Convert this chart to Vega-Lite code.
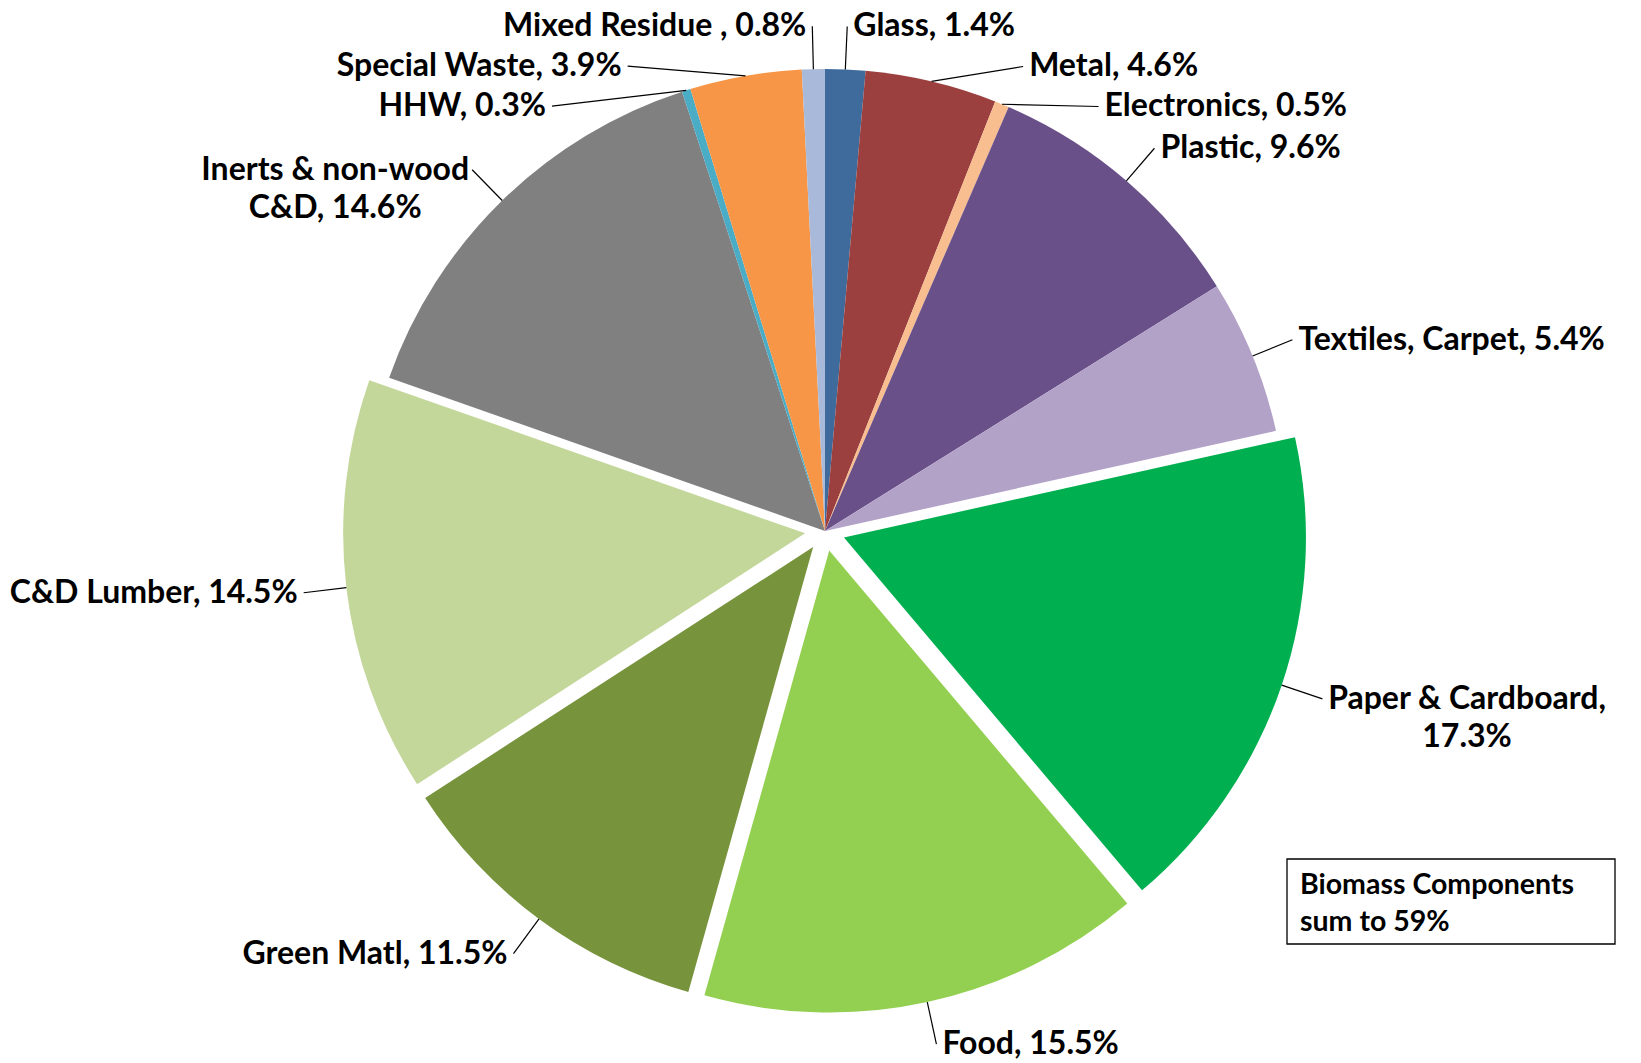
{
  "$schema": "https://vega.github.io/schema/vega-lite/v6.json",
  "width": 1641,
  "height": 1063,
  "autosize": {"type": "fit", "contains": "padding"},
  "padding": 0,
  "background": "white",
  "config": {"view": {"stroke": null}, "text": {"font": "Lato", "fontWeight": "bold", "color": "black"}},
  "data": {"values": [
    {"order": 1, "category": "Glass", "pct": 1.4, "biomass": false, "label": "Glass, 1.4%"},
    {"order": 2, "category": "Metal", "pct": 4.6, "biomass": false, "label": "Metal, 4.6%"},
    {"order": 3, "category": "Electronics", "pct": 0.5, "biomass": false, "label": "Electronics, 0.5%"},
    {"order": 4, "category": "Plastic", "pct": 9.6, "biomass": false, "label": "Plastic, 9.6%"},
    {"order": 5, "category": "Textiles, Carpet", "pct": 5.4, "biomass": false, "label": "Textiles, Carpet, 5.4%"},
    {"order": 6, "category": "Paper & Cardboard", "pct": 17.3, "biomass": true, "label": "Paper & Cardboard,\n17.3%"},
    {"order": 7, "category": "Food", "pct": 15.5, "biomass": true, "label": "Food, 15.5%"},
    {"order": 8, "category": "Green Matl", "pct": 11.5, "biomass": true, "label": "Green Matl, 11.5%"},
    {"order": 9, "category": "C&D Lumber", "pct": 14.5, "biomass": true, "label": "C&D Lumber, 14.5%"},
    {"order": 10, "category": "Inerts & non-wood C&D", "pct": 14.6, "biomass": false, "label": "Inerts & non-wood\nC&D, 14.6%"},
    {"order": 11, "category": "HHW", "pct": 0.3, "biomass": false, "label": "HHW, 0.3%"},
    {"order": 12, "category": "Special Waste", "pct": 3.9, "biomass": false, "label": "Special Waste, 3.9%"},
    {"order": 13, "category": "Mixed Residue", "pct": 0.8, "biomass": false, "label": "Mixed Residue , 0.8%"}
  ]},
  "transform": [
    {"joinaggregate": [{"op": "sum", "field": "pct", "as": "total"}]},
    {"window": [{"op": "sum", "field": "pct", "as": "cum"}], "sort": [{"field": "order"}], "frame": [null, 0]},
    {"calculate": "datum.cum - datum.pct", "as": "a0"},
    {"calculate": "datum.cum", "as": "a1"},
    {"calculate": "2*PI*(datum.cum - datum.pct/2)/datum.total", "as": "am"},
    {"calculate": "datum.biomass ? 20 : 0", "as": "e"},
    {"calculate": "datum.e*sin(datum.am)", "as": "ex"},
    {"calculate": "-datum.e*cos(datum.am)", "as": "ey"},
    {"calculate": "sin(datum.am) >= 0 ? 1 : -1", "as": "side"},
    {"calculate": "(462 + datum.e)*sin(datum.am)", "as": "rx"},
    {"calculate": "-(462 + datum.e)*cos(datum.am)", "as": "ry"},
    {"calculate": "length(split(datum.label, '\\n'))", "as": "nl"},
    {"calculate": "-cos(datum.am)*(505 + datum.e)", "as": "yn"},
    {"calculate": "datum.side > 0 ? datum.am : 2*PI - datum.am", "as": "key"},
    {"window": [{"op": "sum", "field": "nl", "as": "cs"}], "groupby": ["side"], "sort": [{"field": "key"}], "frame": [null, 0]},
    {"calculate": "(datum.cs - datum.nl/2)*40", "as": "sl"},
    {"calculate": "datum.yn - datum.sl", "as": "t"},
    {"window": [{"op": "max", "field": "t", "as": "cm"}], "groupby": ["side"], "sort": [{"field": "key"}], "frame": [null, 0]},
    {"calculate": "datum.sl + datum.cm", "as": "ly"},
    {"calculate": "datum.side*sqrt(max(pow(505 + datum.e, 2) - pow(datum.ly, 2), 0))", "as": "lx"}
  ],
  "layer": [
    {
      "mark": {"type": "arc", "radius": 462},
      "encoding": {
        "theta": {"field": "a1", "type": "quantitative", "stack": null, "scale": {"nice": false, "zero": true}},
        "theta2": {"field": "a0"},
        "x": {"field": "ex", "type": "quantitative", "axis": null, "scale": {"domain": [-825, 816], "nice": false, "zero": false}},
        "y": {"field": "ey", "type": "quantitative", "axis": null, "scale": {"domain": [-531, 532], "reverse": true, "nice": false, "zero": false}},
        "color": {
          "field": "category", "type": "nominal", "legend": null,
          "scale": {
            "domain": ["Glass", "Metal", "Electronics", "Plastic", "Textiles, Carpet", "Paper & Cardboard", "Food", "Green Matl", "C&D Lumber", "Inerts & non-wood C&D", "HHW", "Special Waste", "Mixed Residue"],
            "range": ["#3E6A9C", "#9B403E", "#F9BE8F", "#6A5088", "#B2A2C7", "#00AF50", "#93D051", "#77933C", "#C4D79B", "#808080", "#4BACC6", "#F79646", "#A9B9D9"]
          }
        }
      }
    },
    {
      "mark": {"type": "rule", "color": "black", "strokeWidth": 1.2},
      "encoding": {
        "x": {"field": "rx", "type": "quantitative", "axis": null, "scale": {"domain": [-825, 816], "nice": false, "zero": false}},
        "y": {"field": "ry", "type": "quantitative", "axis": null, "scale": {"domain": [-531, 532], "reverse": true, "nice": false, "zero": false}},
        "x2": {"field": "lx"},
        "y2": {"field": "ly"}
      }
    },
    {
      "transform": [{"filter": "datum.side > 0 && datum.nl == 1"}],
      "mark": {"type": "text", "align": "left", "baseline": "middle", "dx": 6, "fontSize": 32},
      "encoding": {
        "x": {"field": "lx", "type": "quantitative", "axis": null, "scale": {"domain": [-825, 816], "nice": false, "zero": false}},
        "y": {"field": "ly", "type": "quantitative", "axis": null, "scale": {"domain": [-531, 532], "reverse": true, "nice": false, "zero": false}},
        "text": {"field": "label"}
      }
    },
    {
      "transform": [{"filter": "datum.side < 0 && datum.nl == 1"}],
      "mark": {"type": "text", "align": "right", "baseline": "middle", "dx": -6, "fontSize": 32},
      "encoding": {
        "x": {"field": "lx", "type": "quantitative", "axis": null, "scale": {"domain": [-825, 816], "nice": false, "zero": false}},
        "y": {"field": "ly", "type": "quantitative", "axis": null, "scale": {"domain": [-531, 532], "reverse": true, "nice": false, "zero": false}},
        "text": {"field": "label"}
      }
    },
    {
      "transform": [
        {"filter": "datum.nl > 1"},
        {"calculate": "max(length(split(datum.label, '\\n')[0]), length(split(datum.label, '\\n')[1])) * 15.4", "as": "w"},
        {"calculate": "datum.lx + datum.side*(6 + datum.w/2)", "as": "tx"}
      ],
      "mark": {"type": "text", "align": "center", "baseline": "middle", "fontSize": 32, "lineBreak": "\n", "lineHeight": 38},
      "encoding": {
        "x": {"field": "tx", "type": "quantitative", "axis": null, "scale": {"domain": [-825, 816], "nice": false, "zero": false}},
        "y": {"field": "ly", "type": "quantitative", "axis": null, "scale": {"domain": [-531, 532], "reverse": true, "nice": false, "zero": false}},
        "text": {"field": "label"}
      }
    },
    {
      "transform": [
        {"filter": "datum.biomass"},
        {"aggregate": [{"op": "sum", "field": "pct", "as": "s"}]}
      ],
      "mark": {"type": "rect", "fill": "white", "stroke": "black", "strokeWidth": 1.3},
      "encoding": {
        "x": {"datum": 462, "type": "quantitative", "axis": null, "scale": {"domain": [-825, 816], "nice": false, "zero": false}},
        "x2": {"datum": 790},
        "y": {"datum": 328, "type": "quantitative", "axis": null, "scale": {"domain": [-531, 532], "reverse": true, "nice": false, "zero": false}},
        "y2": {"datum": 413}
      }
    },
    {
      "transform": [
        {"filter": "datum.biomass"},
        {"aggregate": [{"op": "sum", "field": "pct", "as": "s"}]},
        {"calculate": "'Biomass Components\\nsum to ' + format(datum.s, '.0f') + '%'", "as": "boxtext"}
      ],
      "mark": {"type": "text", "align": "left", "baseline": "middle", "fontSize": 28.5, "lineBreak": "\n", "lineHeight": 37},
      "encoding": {
        "x": {"datum": 475, "type": "quantitative", "axis": null, "scale": {"domain": [-825, 816], "nice": false, "zero": false}},
        "y": {"datum": 354, "type": "quantitative", "axis": null, "scale": {"domain": [-531, 532], "reverse": true, "nice": false, "zero": false}},
        "text": {"field": "boxtext"}
      }
    }
  ]
}
